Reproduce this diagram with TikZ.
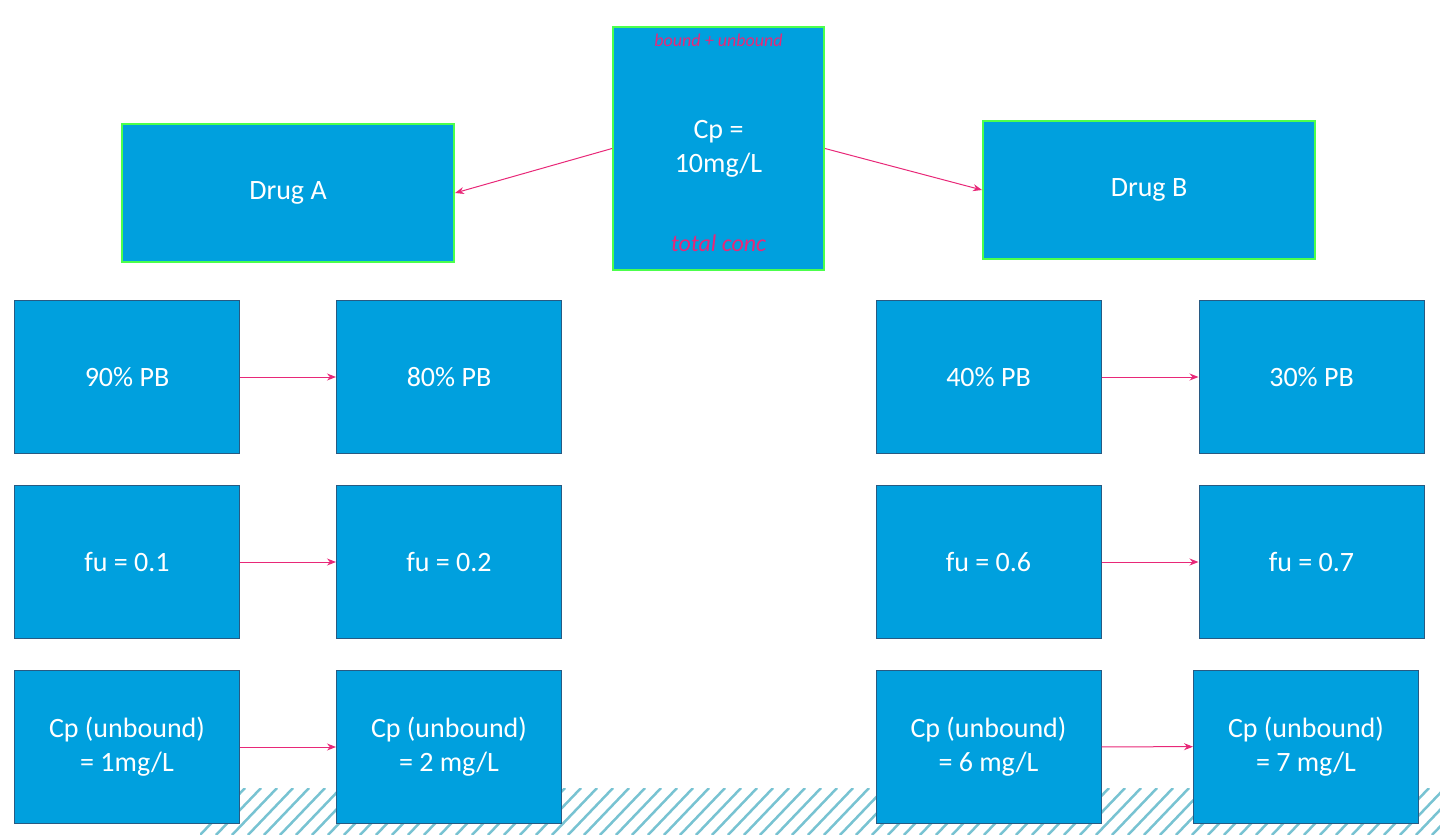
\documentclass[tikz,border=0pt]{standalone}
\usepackage{fontspec}
\setmainfont{Carlito}
\usetikzlibrary{positioning}
\usetikzlibrary {arrows.meta}
\definecolor{boxblue}{RGB}{0,160,222}
\definecolor{boxedge}{RGB}{40,90,130}
\definecolor{pinkarrow}{RGB}{232,40,120}
\definecolor{hatchteal}{RGB}{120,195,210}
\tikzset{pkbox/.style={rectangle,draw=boxedge,fill=boxblue,line width=1pt,
text=white,font=\fontsize{28}{34}\selectfont,align=center,
inner sep=2pt,minimum height=153pt, minimum width=225pt}}
\tikzset{topbox/.style={pkbox,draw=green!70!white,line width=2pt,minimum height=138pt, minimum width=332pt}}
\tikzset{pkarrow/.style={line width=1pt,draw=pinkarrow,-{Stealth[length=9pt,width=7pt]}}}
\tikzset{scrawl/.style={text=pinkarrow,font=\itshape\fontsize{24}{28}\selectfont}}
\begin{document}
\begin{tikzpicture}[x=1pt,y=-1pt]
        \useasboundingbox (0,0) rectangle (1440,835);
        % hatched strip at the foot
        \begin{scope}
        \clip (200,788) rectangle (1440,835);
        \foreach \i in {200,216,...,1480}
            \draw[hatchteal,line width=2.5pt] (\i,835) -- (\i+45,788);
        \end{scope}

        \node[topbox,minimum width=211pt,minimum height=243pt] (cp) at (718.5,148.5) {Cp =\\10mg/L};
        \node[scrawl] (cptop) at ([yshift=-95pt]cp) {total conc};
        \node[scrawl,font=\itshape\fontsize{18}{20}\selectfont] (cpbot) at ([yshift=108pt]cp) {bound + unbound};

        \node[topbox] (drugA) at (288,193) {Drug A};
        \node[topbox] (drugB) at (1149,190) {Drug B};

        \node[pkbox] (pbA1) at (127,377) {90\% PB};
        \node[pkbox] (pbA2) [right=96pt of pbA1] {80\% PB};
        \node[pkbox] (pbB1) at (988.5,377) {40\% PB};
        \node[pkbox] (pbB2) [right=97pt of pbB1] {30\% PB};

        \node[pkbox] (fuA1) [below=31pt of pbA1] {fu = 0.1};
        \node[pkbox] (fuA2) [below=31pt of pbA2] {fu = 0.2};
        \node[pkbox] (fuB1) [below=31pt of pbB1] {fu = 0.6};
        \node[pkbox] (fuB2) [below=31pt of pbB2] {fu = 0.7};

        \node[pkbox] (ubA1) [below=31pt of fuA1] {Cp (unbound)\\= 1mg/L};
        \node[pkbox] (ubA2) [below=31pt of fuA2] {Cp (unbound)\\= 2 mg/L};
        \node[pkbox] (ubB1) [below=31pt of fuB1] {Cp (unbound)\\= 6 mg/L};
        \node[pkbox] (ubB2) at (1306,746.5) {Cp (unbound)\\= 7 mg/L};

        \draw[pkarrow] (cp.west) -- (drugA.east);
        \draw[pkarrow] (cp.east) -- (drugB.west);
        \draw[pkarrow] (pbA1) -- (pbA2);
        \draw[pkarrow] (pbB1) -- (pbB2);
        \draw[pkarrow] (fuA1) -- (fuA2);
        \draw[pkarrow] (fuB1) -- (fuB2);
        \draw[pkarrow] (ubA1) -- (ubA2);
        \draw[pkarrow] (ubB1) -- (ubB2);
    \end{tikzpicture}
\end{document}
